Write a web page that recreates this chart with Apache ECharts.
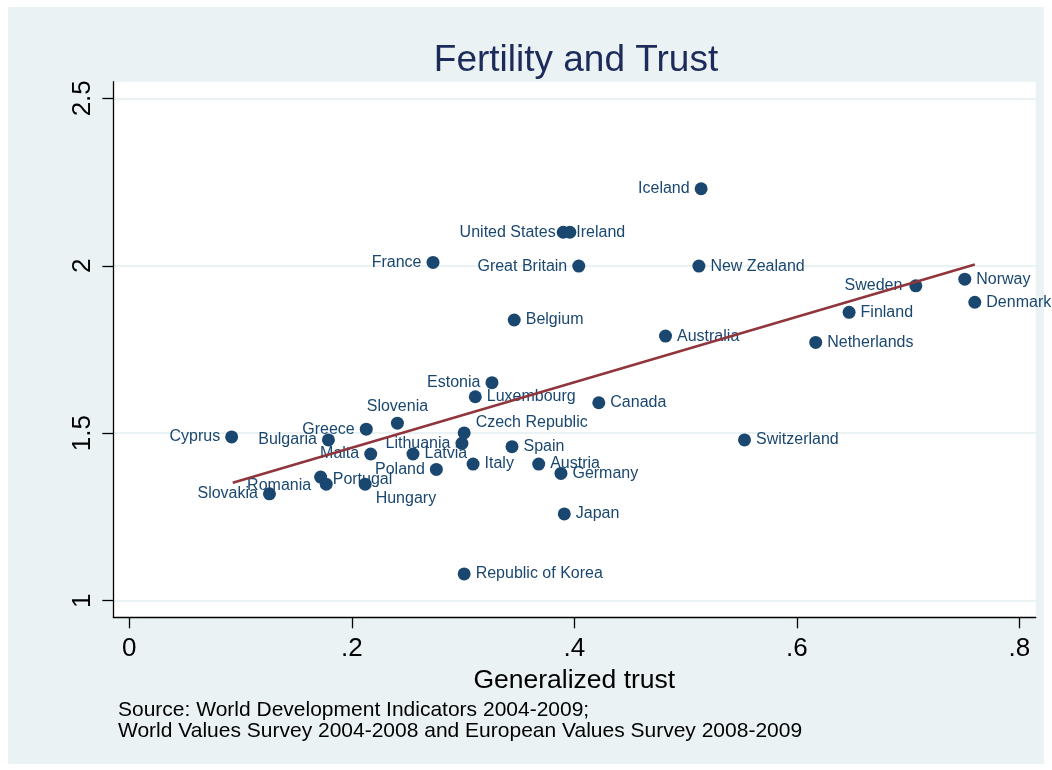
<!DOCTYPE html>
<html>
<head>
<meta charset="UTF-8">
<title>Fertility and Trust</title>
<script src="https://cdn.jsdelivr.net/npm/echarts@6/dist/echarts.min.js"></script>
<style type="text/css">
body {
	margin: 0;
	background: #ffffff;
}

#main {
	width: 1052px;
	height: 770px;
}
</style>
</head>
<body>
	<div id="main"></div>
	<script type="text/javascript">
		// countries with generalized trust (x) and fertility (y)
		var countries = [ 'Cyprus', 'Slovakia', 'Romania', 'Portugal', 'Bulgaria',
				'Greece', 'Malta', 'Hungary', 'Slovenia', 'Latvia', 'Poland',
				'France', 'Lithuania', 'Czech Republic', 'Republic of Korea',
				'Luxembourg', 'Estonia', 'Italy', 'Spain', 'Belgium', 'Austria',
				'Germany', 'Japan', 'United States', 'Ireland', 'Great Britain',
				'Canada', 'Australia', 'Iceland', 'New Zealand', 'Switzerland',
				'Netherlands', 'Finland', 'Sweden', 'Norway', 'Denmark' ];
		var trust = [ 0.092, 0.126, 0.172, 0.177, 0.179, 0.213, 0.217, 0.212,
				0.241, 0.255, 0.276, 0.273, 0.299, 0.301, 0.301, 0.311, 0.326,
				0.309, 0.344, 0.346, 0.368, 0.388, 0.391, 0.390, 0.396, 0.404,
				0.422, 0.482, 0.514, 0.512, 0.553, 0.617, 0.647, 0.707, 0.751,
				0.760 ];
		var fertility = [ 1.489, 1.319, 1.369, 1.348, 1.480, 1.512, 1.438,
				1.348, 1.530, 1.438, 1.392, 2.010, 1.470, 1.501, 1.080, 1.609,
				1.651, 1.408, 1.460, 1.838, 1.408, 1.380, 1.259, 2.100, 2.100,
				1.999, 1.591, 1.790, 2.230, 1.999, 1.480, 1.771, 1.861, 1.940,
				1.960, 1.891 ];

		// fitted line end points
		var fitTrust = [ 0.093, 0.760 ];
		var fitFertility = [ 1.352, 2.004 ];

		// tick labels
		var xTicks = [ 0, 0.2, 0.4, 0.6, 0.8 ];
		var xTickLabels = [ '0', '.2', '.4', '.6', '.8' ];
		var yTicks = [ 1, 1.5, 2, 2.5 ];
		var yTickLabels = [ '1', '1.5', '2', '2.5' ];

		// where the marker label sits (default is right of the dot)
		var labelPlace = {
			'Cyprus' : { position : 'left' },
			'Slovakia' : { position : 'left' },
			'Romania' : { position : 'left', offset : [ 2, 8 ] },
			'Bulgaria' : { position : 'left' },
			'Greece' : { position : 'left' },
			'Malta' : { position : 'left' },
			'Lithuania' : { position : 'left' },
			'Poland' : { position : 'left' },
			'Estonia' : { position : 'left' },
			'France' : { position : 'left' },
			'Great Britain' : { position : 'left' },
			'United States' : { position : 'left', distance : 1 },
			'Iceland' : { position : 'left' },
			'Sweden' : { position : 'left', distance : 7 },
			'Slovenia' : { position : 'top', distance : 2 },
			'Portugal' : { position : 'right', distance : 0, offset : [ 0, -5 ] },
			'Hungary' : { position : 'right', distance : 4, offset : [ 0, 14 ] },
			'Czech Republic' : { position : 'right', offset : [ 0, -10 ] },
			'Ireland' : { position : 'right', distance : 0 }
		};

		var navy = '#1a476f';
		var bg = '#eaf2f3';
		var font = "'Liberation Sans', Arial, sans-serif";

		var points = [];
		for ( var i = 0; i < countries.length; i++) {
			var p = {
				name : countries[i],
				value : [ trust[i], fertility[i] ]
			};
			if (labelPlace[countries[i]]) {
				p.label = labelPlace[countries[i]];
			}
			points.push(p);
		}

		var fitLine = [];
		for ( var j = 0; j < fitTrust.length; j++) {
			fitLine.push([ fitTrust[j], fitFertility[j] ]);
		}

		var myChart = echarts.init(document.getElementById('main'));

		var option = {
			backgroundColor : '#ffffff',
			textStyle : {
				fontFamily : font
			},
			graphic : [ {
				type : 'rect',
				left : 8,
				top : 7,
				z : -1,
				shape : {
					width : 1036,
					height : 757
				},
				style : {
					fill : bg
				}
			} ],
			title : [ {
				text : 'Fertility and Trust',
				left : 576,
				top : 42.5,
				padding : 0,
				textAlign : 'center',
				textStyle : {
					fontFamily : font,
					fontSize : 37,
					lineHeight : 37,
					fontWeight : 'normal',
					color : '#1c2b5a'
				}
			}, {
				text : 'Source: World Development Indicators 2004-2009;\nWorld Values Survey 2004-2008 and European Values Survey 2008-2009',
				left : 118,
				top : 700,
				padding : 0,
				textStyle : {
					fontFamily : font,
					fontSize : 21,
					lineHeight : 21,
					fontWeight : 'normal',
					color : '#000000'
				}
			} ],
			grid : [
			// white plot region with the axis lines
			{
				left : 113.3,
				right : 16.3,
				top : 81.7,
				bottom : 152.7,
				show : true,
				backgroundColor : '#ffffff',
				borderWidth : 0
			},
			// full width band for the grid lines
			{
				left : 113.3,
				right : 16.3,
				top : 98.3,
				bottom : 169.3
			},
			// data area
			{
				left : 129.3,
				right : 32.7,
				top : 98.3,
				bottom : 169.3
			} ],
			xAxis : [ {
				gridIndex : 0,
				type : 'value',
				min : 0,
				max : 1,
				axisLine : {
					onZero : false,
					lineStyle : {
						color : '#000000',
						width : 1.3
					}
				},
				axisTick : {
					show : false
				},
				axisLabel : {
					show : false
				},
				splitLine : {
					show : false
				}
			}, {
				gridIndex : 1,
				type : 'value',
				min : 0,
				max : 1,
				show : false
			}, {
				gridIndex : 2,
				type : 'value',
				min : xTicks[0],
				max : xTicks[xTicks.length - 1],
				interval : 0.2,
				offset : 16.6,
				name : 'Generalized trust',
				nameLocation : 'middle',
				nameGap : 43,
				nameTextStyle : {
					fontFamily : font,
					fontSize : 26.5,
					color : '#000000'
				},
				axisLine : {
					show : false,
					onZero : false
				},
				axisTick : {
					length : 11,
					lineStyle : {
						color : '#000000',
						width : 1.3
					}
				},
				axisLabel : {
					margin : 19,
					fontFamily : font,
					fontSize : 26,
					color : '#000000',
					formatter : function(v) {
						var k = xTicks.indexOf(Math.round(v * 10) / 10);
						return k >= 0 ? xTickLabels[k] : '';
					}
				},
				splitLine : {
					show : false
				}
			} ],
			yAxis : [ {
				gridIndex : 0,
				type : 'value',
				min : 0,
				max : 1,
				axisLine : {
					onZero : false,
					lineStyle : {
						color : '#000000',
						width : 1.3
					}
				},
				axisTick : {
					show : false
				},
				axisLabel : {
					show : false
				},
				splitLine : {
					show : false
				}
			}, {
				gridIndex : 1,
				type : 'value',
				min : yTicks[0],
				max : yTicks[yTicks.length - 1],
				interval : 0.5,
				axisLine : {
					show : false
				},
				axisTick : {
					show : false
				},
				axisLabel : {
					show : false
				},
				splitLine : {
					show : true,
					lineStyle : {
						color : bg,
						width : 2
					}
				}
			}, {
				gridIndex : 2,
				type : 'value',
				min : yTicks[0],
				max : yTicks[yTicks.length - 1],
				interval : 0.5,
				offset : 16,
				axisLine : {
					show : false,
					onZero : false
				},
				axisTick : {
					length : 11,
					lineStyle : {
						color : '#000000',
						width : 1.3
					}
				},
				axisLabel : {
					margin : 17,
					rotate : 90,
					fontFamily : font,
					fontSize : 26,
					color : '#000000',
					formatter : function(v) {
						var k = yTicks.indexOf(v);
						return k >= 0 ? yTickLabels[k] : '';
					}
				},
				splitLine : {
					show : false
				}
			} ],
			series : [ {
				type : 'scatter',
				xAxisIndex : 2,
				yAxisIndex : 2,
				symbol : 'circle',
				symbolSize : 13,
				z : 3,
				clip : false,
				itemStyle : {
					color : navy,
					opacity : 1
				},
				label : {
					show : true,
					position : 'right',
					distance : 5,
					formatter : '{b}',
					fontFamily : font,
					fontSize : 16,
					color : navy
				},
				emphasis : {
					disabled : true
				},
				data : points
			}, {
				type : 'line',
				xAxisIndex : 2,
				yAxisIndex : 2,
				z : 4,
				symbol : 'none',
				silent : true,
				lineStyle : {
					color : '#90353b',
					width : 2.5
				},
				data : fitLine
			} ]
		};

		myChart.setOption(option);
	</script>
</body>
</html>
